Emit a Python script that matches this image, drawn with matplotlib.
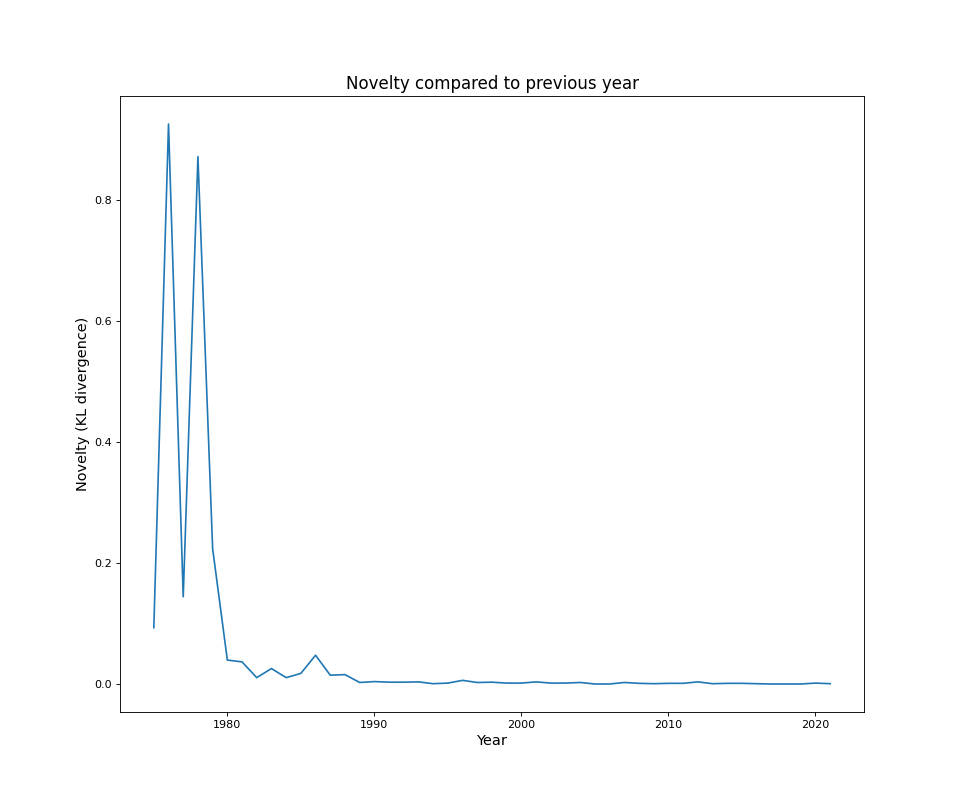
import matplotlib
matplotlib.use("Agg")
import matplotlib.pyplot as plt

# Novelty (KL divergence) of each year compared to the previous one
years = list(range(1975, 2022))
novelty = [
    0.0935, 0.925, 0.1446, 0.871, 0.224,
    0.040, 0.037, 0.011, 0.026, 0.011,
    0.018, 0.048, 0.015, 0.016, 0.003,
    0.0045, 0.0035, 0.0035, 0.004, 0.001,
    0.002, 0.0065, 0.003, 0.0035, 0.002,
    0.002, 0.004, 0.002, 0.002, 0.003,
    0.0005, 0.0005, 0.003, 0.0016, 0.001,
    0.0016, 0.0016, 0.004, 0.001, 0.0016,
    0.0016, 0.001, 0.0005, 0.0005, 0.0005,
    0.002, 0.001,
]

fig, ax = plt.subplots(figsize=(12, 10), dpi=80)
ax.plot(years, novelty, color="#1f77b4")
ax.set_title("Novelty compared to previous year", fontsize=15)
ax.set_xlabel("Year", fontsize=13)
ax.set_ylabel("Novelty (KL divergence)", fontsize=13)

fig.savefig("out.png", dpi=80)
